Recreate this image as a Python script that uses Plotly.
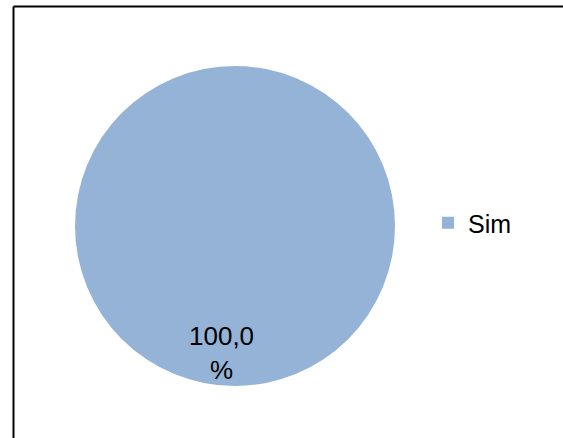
import plotly.graph_objects as go

W, H = 563, 438

labels = ["Sim"]
values = [100.0]
pct_label = "100,0<br>%"
colors = ["#95B3D7"]

fig = go.Figure()
fig.add_trace(go.Pie(
    labels=labels,
    values=values,
    marker=dict(colors=colors, line=dict(width=0)),
    textinfo="none",
    sort=False,
    direction="clockwise",
    domain=dict(x=[75 / W, 395 / W], y=[1 - 386 / H, 1 - 66 / H]),
    showlegend=True,
))

fig.add_annotation(
    x=221 / W, y=1 - 353 / H, xref="paper", yref="paper",
    text=pct_label, showarrow=False, xanchor="center", yanchor="middle",
    font=dict(family="Liberation Sans, Arial", size=26, color="#000000"),
)

# chart frame (only top and left edges are visible in the reference)
fig.add_shape(type="line", xref="paper", yref="paper",
              x0=13.5 / W, y0=1 - 6.5 / H, x1=1.0, y1=1 - 6.5 / H,
              line=dict(color="#000000", width=2))
fig.add_shape(type="line", xref="paper", yref="paper",
              x0=13.5 / W, y0=1 - 6.5 / H, x1=13.5 / W, y1=0.0,
              line=dict(color="#000000", width=2))

fig.update_layout(
    width=W, height=H,
    margin=dict(l=0, r=0, t=0, b=0),
    paper_bgcolor="white", plot_bgcolor="white",
    font=dict(family="Liberation Sans, Arial", size=25, color="#000000"),
    legend=dict(x=428 / W, y=1 - 223 / H, xanchor="left", yanchor="middle",
                bgcolor="rgba(0,0,0,0)", borderwidth=0,
                font=dict(size=25)),
)

fig.write_html("out.html",
               config={"displayModeBar": False},
               post_script="document.body.style.margin='0px';document.body.style.padding='0px';")
